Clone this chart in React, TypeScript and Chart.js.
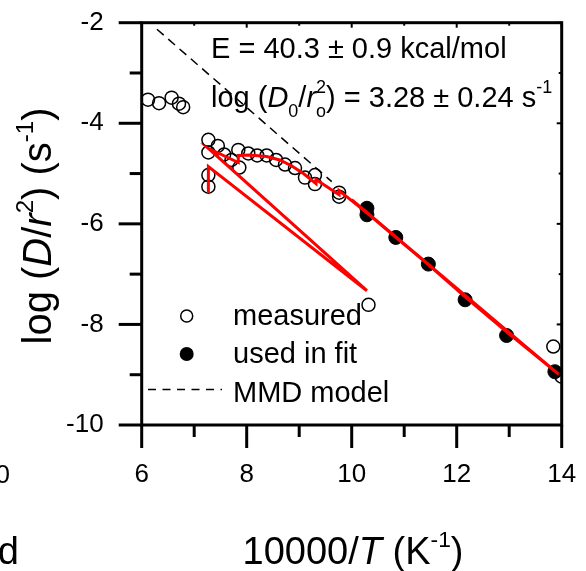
import React, { useEffect, useRef } from 'react';
import { Chart, registerables } from 'chart.js';

Chart.register(...registerables);

// ---- data ----
const measuredX = [6.12, 6.33, 6.57, 6.71, 6.79,
  7.27, 7.27, 7.45, 7.57, 7.71, 7.86, 7.84, 8.03, 8.20, 8.38, 8.56, 8.73, 8.92, 9.11, 9.30, 9.30, 7.27, 7.27,
  9.76, 9.76, 10.32, 13.84, 14.0];
const measuredY = [-3.53, -3.60, -3.49, -3.61, -3.68,
  -4.33, -4.58, -4.45, -4.62, -4.73, -4.88, -4.53, -4.60, -4.64, -4.64, -4.73, -4.82, -4.89, -5.08, -5.03, -5.21, -5.03, -5.26,
  -5.46, -5.38, -7.61, -8.44, -9.04];

const fitPointX = [10.29, 10.29, 10.84, 11.46, 12.16, 12.95, 13.87];
const fitPointY = [-5.69, -5.82, -6.27, -6.80, -7.51, -8.22, -8.94];

const modelX = [7.27, 7.27, 10.29, 7.27, 7.84, 7.84, 8.06, 8.38, 8.63, 8.86, 9.08, 9.32, 9.32, 9.76, 9.76, 10.29, 10.84, 11.46, 12.16, 12.95, 13.87];
const modelY = [-5.38, -4.86, -7.33, -4.50, -4.78, -4.64, -4.63, -4.66, -4.73, -4.85, -5.00, -5.20, -5.12, -5.42, -5.34, -5.78, -6.27, -6.81, -7.45, -8.15, -8.93];

const fitLineX = [10.0, 13.95];
const fitLineY = [-5.52, -9.0];

const mmdX = [6.29, 9.62];
const mmdY = [-2.13, -5.16];

const xTickValues = [6, 8, 10, 12, 14];
const xMinorValues = [7, 9, 11, 13];
const yTickValues = [-10, -8, -6, -4, -2];
const yMinorValues = [-9, -7, -5, -3];

const FONT = "'Liberation Sans', Arial, Helvetica, sans-serif";

type Run = { t: string; italic?: boolean; scale?: number; shift?: number; noAdvance?: boolean };

function runsWidth(ctx: CanvasRenderingContext2D, runs: Run[], size: number) {
  let w = 0;
  for (const r of runs) {
    ctx.font = `${r.italic ? 'italic ' : ''}${size * (r.scale ?? 1)}px ${FONT}`;
    if (!r.noAdvance) w += ctx.measureText(r.t).width;
  }
  return w;
}

function drawRuns(ctx: CanvasRenderingContext2D, runs: Run[], x: number, y: number, size: number) {
  let cx = x;
  ctx.textBaseline = 'alphabetic';
  ctx.textAlign = 'left';
  for (const r of runs) {
    ctx.font = `${r.italic ? 'italic ' : ''}${size * (r.scale ?? 1)}px ${FONT}`;
    ctx.fillText(r.t, cx, y + (r.shift ?? 0) * size);
    if (!r.noAdvance) cx += ctx.measureText(r.t).width;
  }
}

const zip = (xs: number[], ys: number[]) => xs.map((x, i) => ({ x, y: ys[i] }));

const decorPlugin = {
  id: 'decor',
  afterDraw(chart: any) {
    const ctx: CanvasRenderingContext2D = chart.ctx;
    const ca = chart.chartArea;
    const xs = chart.scales.x;
    const ys = chart.scales.y;
    ctx.save();
    ctx.strokeStyle = '#000';
    ctx.fillStyle = '#000';
    ctx.setLineDash([]);
    const line = (x1: number, y1: number, x2: number, y2: number) => {
      ctx.beginPath();
      ctx.moveTo(x1, y1);
      ctx.lineTo(x2, y2);
      ctx.stroke();
    };
    // frame
    ctx.lineWidth = 3;
    ctx.strokeRect(ca.left, ca.top, ca.right - ca.left, ca.bottom - ca.top);
    // outer ticks left & bottom
    for (const v of yTickValues) { const p = ys.getPixelForValue(v); line(ca.left - 23, p, ca.left, p); }
    for (const v of yMinorValues) { const p = ys.getPixelForValue(v); line(ca.left - 12, p, ca.left, p); }
    for (const v of xTickValues) { const p = xs.getPixelForValue(v); line(p, ca.bottom, p, ca.bottom + 23); }
    for (const v of xMinorValues) { const p = xs.getPixelForValue(v); line(p, ca.bottom, p, ca.bottom + 12); }
    // small inner ticks top & right
    ctx.lineWidth = 2;
    for (const v of xTickValues) { const p = xs.getPixelForValue(v); line(p, ca.top, p, ca.top + 5); }
    for (const v of xMinorValues) { const p = xs.getPixelForValue(v); line(p, ca.top, p, ca.top + 3); }
    for (const v of yTickValues) { const p = ys.getPixelForValue(v); line(ca.right, p, ca.right - 5, p); }
    for (const v of yMinorValues) { const p = ys.getPixelForValue(v); line(ca.right, p, ca.right - 3, p); }

    // annotations
    ctx.fillStyle = '#000';
    drawRuns(ctx, [{ t: 'E = 40.3 ± 0.9 kcal/mol' }], 211, 58, 29);
    drawRuns(ctx, [
      { t: 'log (' },
      { t: 'D', italic: true },
      { t: '0', scale: 0.62, shift: 0.36 },
      { t: '/' },
      { t: 'r', italic: true },
      { t: 'o', scale: 0.62, shift: 0.36, noAdvance: true },
      { t: '2', scale: 0.62, shift: -0.45 },
      { t: ') = 3.28 ± 0.24 s' },
      { t: '-1', scale: 0.62, shift: -0.45 },
    ], 211, 106.5, 29);

    // legend
    const lx = 186.7;
    ctx.lineWidth = 1.5;
    ctx.beginPath();
    ctx.arc(lx, 316, 6, 0, Math.PI * 2);
    ctx.stroke();
    ctx.beginPath();
    ctx.arc(lx, 354, 7, 0, Math.PI * 2);
    ctx.fill();
    ctx.setLineDash([8, 6.5]);
    line(148, 389.5, 222, 389.5);
    ctx.setLineDash([]);
    drawRuns(ctx, [{ t: 'measured' }], 233, 325, 29);
    drawRuns(ctx, [{ t: 'used in fit' }], 233, 363, 29);
    drawRuns(ctx, [{ t: 'MMD model' }], 233, 401.5, 29);

    // x title
    const xRuns: Run[] = [
      { t: '10000/' },
      { t: 'T', italic: true },
      { t: ' (K' },
      { t: '-1', scale: 0.6, shift: -0.45 },
      { t: ')' },
    ];
    const xw = runsWidth(ctx, xRuns, 38);
    drawRuns(ctx, xRuns, 353 - xw / 2, 564, 38);

    // y title
    const yRuns: Run[] = [
      { t: 'log (' },
      { t: 'D', italic: true },
      { t: '/' },
      { t: 'r', italic: true },
      { t: '2', scale: 0.6, shift: -0.45 },
      { t: ') (s' },
      { t: '-1', scale: 0.6, shift: -0.45 },
      { t: ')' },
    ];
    const yw = runsWidth(ctx, yRuns, 40);
    ctx.save();
    ctx.translate(51, 226);
    ctx.rotate(-Math.PI / 2);
    drawRuns(ctx, yRuns, -yw / 2, 0, 40);
    ctx.restore();

    // fragments of neighbouring panel
    ctx.font = `26px ${FONT}`;
    ctx.textAlign = 'right';
    ctx.textBaseline = 'alphabetic';
    ctx.fillText('0', 10, 483);
    ctx.font = `38px ${FONT}`;
    ctx.fillText('d', 19, 564);
    ctx.restore();
  },
};

const zeroPad = (s: any) => { s.paddingTop = 0; s.paddingBottom = 0; s.paddingLeft = 0; s.paddingRight = 0; };

export default function App() {
  const ref = useRef<HTMLCanvasElement>(null);
  useEffect(() => {
    if (!ref.current) return;
    const chart = new Chart(ref.current, {
      type: 'scatter',
      data: {
        datasets: [
          { label: 'model', data: zip(modelX, modelY), showLine: true, borderColor: '#ff0000', borderWidth: 3, pointRadius: 0, order: 0 } as any,
          { label: 'fit', data: zip(fitLineX, fitLineY), showLine: true, borderColor: '#ff0000', borderWidth: 3, pointRadius: 0, order: 0 } as any,
          { label: 'used in fit', data: zip(fitPointX, fitPointY), pointRadius: 7, pointBackgroundColor: '#000', pointBorderColor: '#000', pointBorderWidth: 1, order: 1 } as any,
          { label: 'measured', data: zip(measuredX, measuredY), pointRadius: 6.5, pointBackgroundColor: 'rgba(0,0,0,0)', pointBorderColor: '#000', pointBorderWidth: 1.5, order: 2 } as any,
          { label: 'MMD model', data: zip(mmdX, mmdY), showLine: true, borderColor: '#000', borderWidth: 1.5, borderDash: [9, 6], pointRadius: 0, order: 3 } as any,
        ],
      },
      options: {
        animation: false,
        responsive: false,
        devicePixelRatio: 1,
        layout: { padding: { top: 22.7, right: 24.3, left: 0, bottom: 0 } },
        plugins: { legend: { display: false }, tooltip: { enabled: false } },
        scales: {
          x: {
            type: 'linear',
            min: 6,
            max: 14,
            grid: { display: false, drawTicks: false },
            border: { display: false },
            ticks: {
              stepSize: 2,
              padding: 34,
              color: '#000',
              font: { size: 26, family: FONT },
              maxRotation: 0,
              autoSkip: false,
              callback: (v: any) => String(v),
            },
            afterBuildTicks: (s: any) => { s.ticks = xTickValues.map((v) => ({ value: v })); },
            afterFit: (s: any) => { s.height = 146; zeroPad(s); },
          },
          y: {
            type: 'linear',
            min: -10,
            max: -2,
            grid: { display: false, drawTicks: false },
            border: { display: false },
            ticks: {
              stepSize: 2,
              padding: 38,
              color: '#000',
              font: { size: 26, family: FONT },
              autoSkip: false,
              callback: (v: any) => String(v),
            },
            afterBuildTicks: (s: any) => { s.ticks = yTickValues.map((v) => ({ value: v })); },
            afterFit: (s: any) => { s.width = 141.7; zeroPad(s); },
          },
        },
      } as any,
      plugins: [decorPlugin],
    });
    return () => chart.destroy();
  }, []);
  return (
    <div style={{ position: 'absolute', left: 0, top: 0, width: 586, height: 571, background: '#fff' }}>
      <canvas ref={ref} width={586} height={571} style={{ display: 'block', width: 586, height: 571 }} />
    </div>
  );
}
